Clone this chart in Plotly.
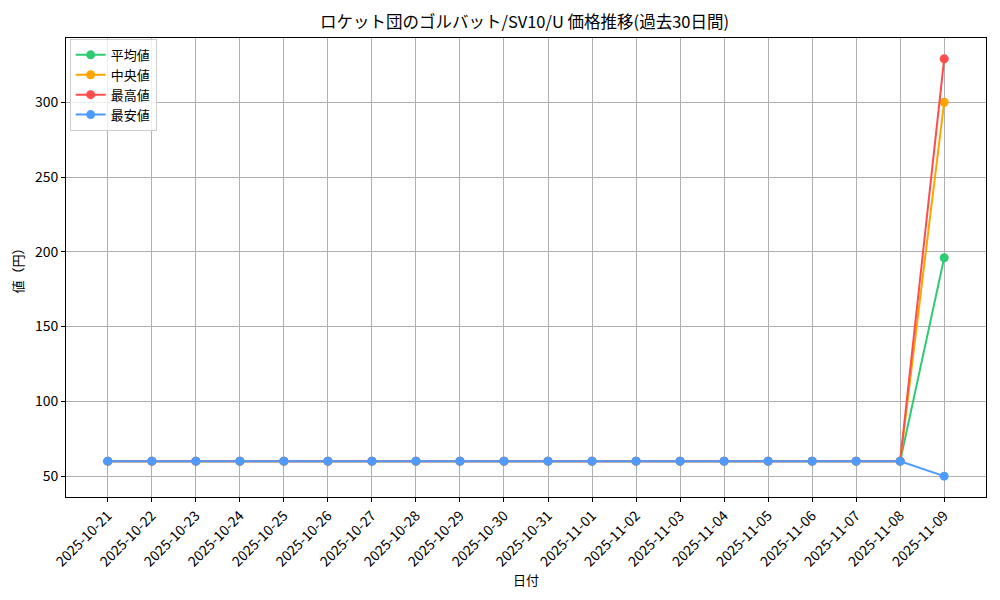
import plotly.graph_objects as go

dates = [
    "2025-10-21", "2025-10-22", "2025-10-23", "2025-10-24", "2025-10-25",
    "2025-10-26", "2025-10-27", "2025-10-28", "2025-10-29", "2025-10-30",
    "2025-10-31", "2025-11-01", "2025-11-02", "2025-11-03", "2025-11-04",
    "2025-11-05", "2025-11-06", "2025-11-07", "2025-11-08", "2025-11-09",
]
avg_prices = [60] * 19 + [196]
median_prices = [60] * 19 + [300]
max_prices = [60] * 19 + [329]
min_prices = [60] * 19 + [50]

series = [
    ("平均値", avg_prices, "#2ecc71"),
    ("中央値", median_prices, "#ffa500"),
    ("最高値", max_prices, "#ff4d4d"),
    ("最安値", min_prices, "#4d9bff"),
]

FONT = "Noto Sans CJK JP"

fig = go.Figure()
for name, vals, color in series:
    fig.add_trace(
        go.Scatter(
            x=dates,
            y=vals,
            mode="lines+markers",
            name=name,
            line=dict(color=color, width=2),
            marker=dict(color=color, size=9),
        )
    )

axis_style = dict(
    showline=True,
    linecolor="black",
    linewidth=1,
    mirror=True,
    ticks="outside",
    ticklen=4,
    tickcolor="black",
    showgrid=True,
    gridcolor="#b0b0b0",
    gridwidth=1,
    zeroline=False,
)

fig.update_xaxes(
    type="category",
    range=[-0.95, 19.95],
    tickangle=-45,
    tickfont=dict(size=14, color="black"),
    title=dict(text="日付", font=dict(size=13, color="black"), standoff=2),
    **axis_style,
)
fig.update_yaxes(
    range=[36.05, 342.95],
    tickvals=[50, 100, 150, 200, 250, 300],
    tickfont=dict(size=14, color="black"),
    title=dict(text="値（円）", font=dict(size=13, color="black"), standoff=10),
    **axis_style,
)

fig.update_layout(
    width=984,
    height=584,
    font=dict(family=FONT, color="black"),
    plot_bgcolor="white",
    paper_bgcolor="white",
    title=dict(
        text="ロケット団のゴルバット/SV10/U 価格推移(過去30日間)",
        x=516.5 / 984,
        xanchor="center",
        y=1 - 14 / 584,
        yanchor="middle",
        font=dict(size=16.5, color="black"),
    ),
    legend=dict(
        x=0.004,
        y=0.998,
        xanchor="left",
        yanchor="top",
        bgcolor="rgba(255,255,255,0.8)",
        bordercolor="#cccccc",
        borderwidth=1,
        font=dict(size=13),
    ),
    margin=dict(l=58, r=6, t=30, b=95),
    showlegend=True,
)

fig.write_html("out.html")
